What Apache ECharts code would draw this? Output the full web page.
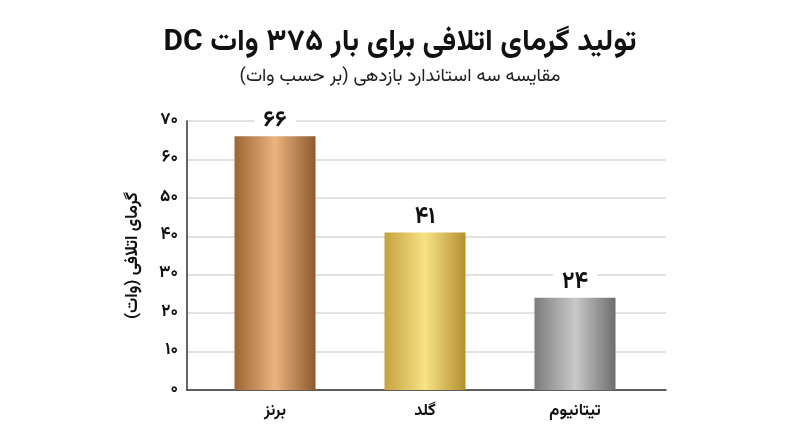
<!DOCTYPE html>
<html><head><meta charset="utf-8">
<script src="https://cdn.jsdelivr.net/npm/echarts@6/dist/echarts.min.js"></script>
<style>html,body{margin:0;padding:0;background:#fff}#c{width:800px;height:447px}</style>
</head><body><div id="c"></div>
<script>
const categories = ['برنز', 'گلد', 'تیتانیوم'];
const values = [66, 41, 24];
const yTicks = [0, 10, 20, 30, 40, 50, 60, 70];
const titleText = 'تولید گرمای اتلافی برای بار ۳۷۵ وات DC';
const subtitleText = 'مقایسه سه استاندارد بازدهی (بر حسب وات)';
const yAxisName = 'گرمای اتلافی (وات)';
const barColors = [
  ['#9c6535', '#ebb37e', '#8c5a2e'],
  ['#c6a23e', '#f7e286', '#b48f30'],
  ['#7c7c7c', '#c9c9c9', '#6e6e6e']
];

const FONT = 'Vazirmatn, "DejaVu Sans", sans-serif';
const fa = n => String(n).replace(/\d/g, d => '۰۱۲۳۴۵۶۷۸۹'[d]);
const rtl = s => '\u202B' + s + '\u202C';

const chart = echarts.init(document.getElementById('c'), null, {renderer: 'canvas'});
chart.setOption({
  backgroundColor: '#fff',
  animation: false,
  textStyle: {fontFamily: FONT},
  title: [
    {text: rtl(titleText), left: 'center', top: 25,
     textStyle: {fontFamily: FONT, fontSize: 30, fontWeight: 'bold', color: '#111'}},
    {text: rtl(subtitleText), left: 'center', top: 64,
     textStyle: {fontFamily: FONT, fontSize: 18.5, fontWeight: 'normal', color: '#222'}}
  ],
  grid: [
    {left: 187, right: 134, top: 121, bottom: 57},
    {left: 200, right: 150, top: 121, bottom: 57}
  ],
  xAxis: [
    {type: 'category', gridIndex: 0, data: categories,
     axisLine: {show: true, lineStyle: {color: '#333', width: 1.5}},
     axisTick: {show: false}, axisLabel: {show: false}},
    {type: 'category', gridIndex: 1, data: categories,
     axisLine: {show: false}, axisTick: {show: false},
     axisLabel: {fontFamily: FONT, fontSize: 16.5, fontWeight: 'bold', color: '#111', margin: 14}}
  ],
  yAxis: [
    {type: 'value', gridIndex: 0, min: yTicks[0], max: yTicks[yTicks.length - 1], interval: 10,
     name: rtl(yAxisName), nameLocation: 'middle', nameGap: 44, nameRotate: 90,
     nameTextStyle: {fontFamily: FONT, fontSize: 17, fontWeight: 'bold', color: '#111'},
     axisLine: {show: true, lineStyle: {color: '#333', width: 1.5}},
     axisTick: {show: false},
     axisLabel: {formatter: v => fa(v), fontFamily: FONT, fontSize: 17, fontWeight: 'bold', color: '#111', margin: 9},
     splitLine: {lineStyle: {color: '#d9d9d9', width: 1.5}}},
    {type: 'value', gridIndex: 1, min: yTicks[0], max: yTicks[yTicks.length - 1], interval: 10,
     axisLine: {show: false}, axisTick: {show: false}, axisLabel: {show: false}, splitLine: {show: false}}
  ],
  series: [{
    type: 'bar', xAxisIndex: 1, yAxisIndex: 1, barWidth: 81,
    data: values.map((v, i) => ({
      value: v,
      itemStyle: {color: new echarts.graphic.LinearGradient(0, 0, 1, 0, [
        {offset: 0, color: barColors[i][0]},
        {offset: 0.5, color: barColors[i][1]},
        {offset: 1, color: barColors[i][2]}
      ])}
    })),
    label: {show: true, position: 'top', distance: 2, formatter: p => fa(p.value),
      fontFamily: FONT, fontSize: 23, fontWeight: 'bold', color: '#111',
      backgroundColor: '#fff', padding: [0, 9, 0, 9]}
  }]
});
</script></body></html>
